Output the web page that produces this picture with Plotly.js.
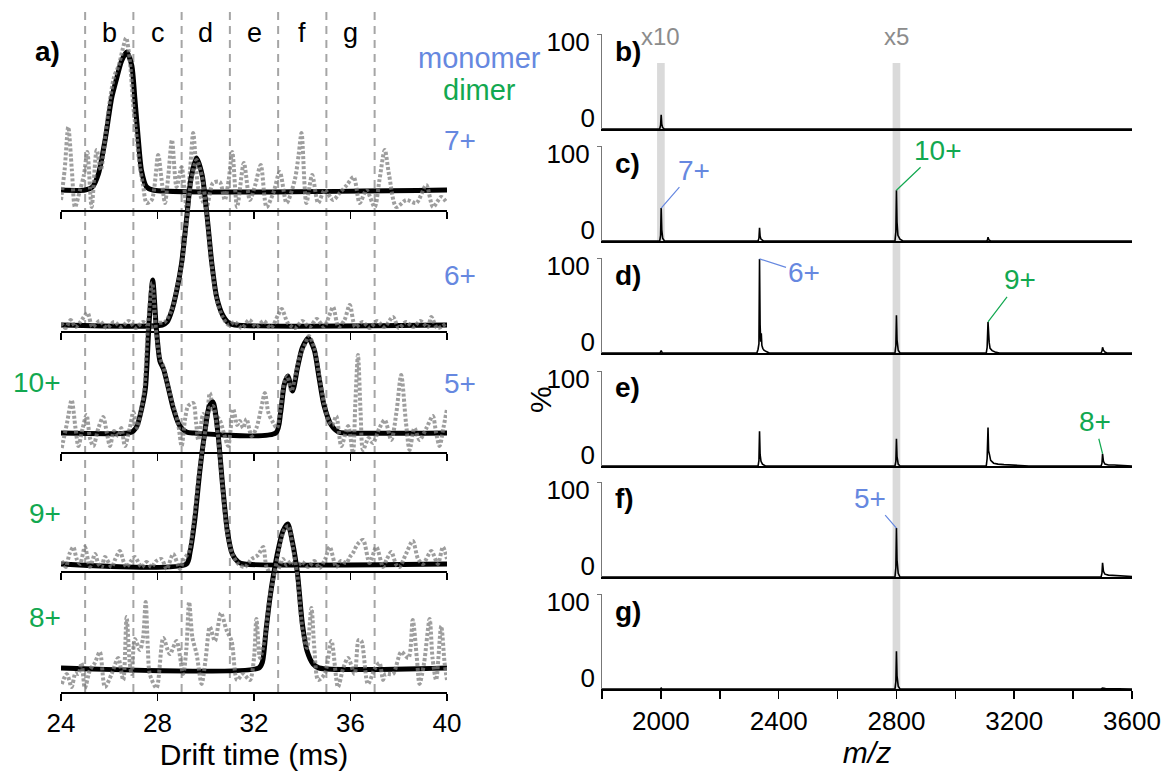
<!DOCTYPE html>
<html>
<head>
<meta charset="utf-8">
<script src="https://cdn.plot.ly/plotly-3.0.1.min.js"></script>
<style>html,body{margin:0;padding:0;background:#fff;}#chart{width:1167px;height:778px;}</style>
</head>
<body>
<div id="chart"></div>
<script>
// ---------------- DATA ----------------
// Left panel (a): arrival-time distributions, drift time (ms) vs intensity (arb.)
const driftTicks = [24, 28, 32, 36, 40];
const windowEdges = [25, 27, 29, 31, 33, 35, 37];
const windowLetters = ['b', 'c', 'd', 'e', 'f', 'g'];
const windowCenters = [26, 28, 30, 32, 34, 36];

const fit7 = [[24,0],[25.0,0],[25.3,3],[25.55,16],[25.82,49],[26.1,92],[26.3,111],[26.51,129],[26.72,138],[26.93,125],[27.06,92],[27.2,52],[27.34,19],[27.55,3],[27.8,0],[40,0]];
const raw7 = [[24.0,-10],[24.15,20],[24.3,63],[24.45,20],[24.58,-17],[24.79,0],[24.95,15],[25.09,38],[25.27,-17],[25.48,40],[25.65,20],[25.82,50],[26.0,85],[26.2,113],[26.4,125],[26.55,140],[26.7,152],[26.85,130],[27.0,83],[27.15,50],[27.27,23],[27.4,5],[27.55,-13],[27.76,-10],[28.03,35],[28.17,10],[28.31,-13],[28.45,15],[28.6,50],[28.79,3],[29.0,23],[29.2,-17],[29.35,20],[29.48,57],[29.68,3],[29.85,-10],[30.03,-17],[30.3,7],[30.58,8],[30.79,-10],[30.95,10],[31.1,38],[31.3,-17],[31.58,27],[31.83,-10],[32.05,5],[32.28,25],[32.52,-17],[32.8,-3],[33.07,18],[33.35,-13],[33.69,10],[33.85,35],[33.97,57],[34.17,-13],[34.41,15],[34.66,-13],[34.93,0],[35.28,-10],[35.55,-3],[35.85,5],[36.13,13],[36.38,-13],[36.66,0],[37.0,-17],[37.2,10],[37.42,40],[37.6,15],[37.9,-17],[38.31,-10],[38.73,-13],[39.14,5],[39.42,-17],[39.76,-7],[40.0,-13]];

const fit6 = [[24,0],[28.2,0],[28.4,3],[28.6,15],[28.8,35],[29.0,62],[29.2,105],[29.4,148],[29.62,167],[29.85,150],[30.05,110],[30.25,62],[30.45,28],[30.7,10],[30.95,2],[31.2,0],[40,0]];
const raw6 = [[24.0,2],[24.2,-3],[24.4,5],[24.6,-2],[24.8,3],[25.1,12],[25.3,-2],[25.6,4],[25.9,-3],[26.2,3],[26.5,-2],[26.8,4],[27.1,-3],[27.4,3],[27.7,-2],[28.0,2],[28.3,3],[28.6,16],[28.8,37],[29.0,60],[29.2,103],[29.4,145],[29.62,165],[29.85,148],[30.05,108],[30.25,60],[30.45,26],[30.7,8],[30.95,0],[31.2,3],[31.5,-3],[31.8,5],[32.1,-2],[32.4,4],[32.7,-3],[33.0,10],[33.15,16],[33.4,2],[33.7,-3],[34.0,4],[34.3,-2],[34.6,6],[34.9,-2],[35.1,8],[35.28,18],[35.5,-2],[35.75,5],[35.97,20],[36.2,-2],[36.5,3],[36.8,-3],[37.1,4],[37.4,-2],[37.76,8],[38.0,-3],[38.3,3],[38.6,-2],[38.9,4],[39.2,-2],[39.35,8],[39.6,-3],[40.0,2]];

const fit10 = [[24,0],[26.8,0],[27.0,2],[27.15,7],[27.35,25],[27.5,45],[27.65,110],[27.8,153],[27.95,105],[28.1,72],[28.25,64],[28.45,45],[28.65,25],[28.9,8],[29.2,1],[29.5,0],[32.9,0],[33.1,20],[33.25,48],[33.4,57],[33.6,42],[33.8,65],[34.0,85],[34.25,95],[34.5,83],[34.7,55],[34.9,28],[35.2,8],[35.5,1],[35.8,0],[40,0]];
const raw10 = [[24.03,-15],[24.25,10],[24.44,33],[24.6,5],[24.72,-13],[24.9,5],[25.06,18],[25.2,-5],[25.34,-13],[25.55,5],[25.75,16],[25.9,0],[26.03,-13],[26.2,2],[26.37,-3],[26.5,5],[26.65,-13],[26.85,5],[27.0,21],[27.15,5],[27.3,20],[27.45,42],[27.6,105],[27.78,150],[27.95,100],[28.1,75],[28.25,66],[28.45,45],[28.65,28],[28.85,10],[29.0,-13],[29.15,15],[29.27,27],[29.48,30],[29.6,10],[29.69,-7],[29.89,19],[30.0,5],[30.17,40],[30.35,20],[30.58,13],[30.75,0],[30.93,-13],[31.14,24],[31.3,8],[31.41,12],[31.55,5],[31.69,14],[31.9,-3],[32.1,5],[32.3,25],[32.45,40],[32.6,20],[32.8,10],[32.95,5],[33.1,25],[33.25,50],[33.38,57],[33.55,42],[33.7,55],[33.9,77],[34.1,88],[34.28,97],[34.5,85],[34.7,58],[34.9,30],[35.1,12],[35.25,8],[35.41,17],[35.62,-13],[35.9,7],[36.1,-20],[36.2,30],[36.31,78],[36.42,20],[36.52,-17],[36.75,-5],[36.93,-10],[37.2,5],[37.42,13],[37.69,-7],[37.9,20],[38.1,58],[38.3,10],[38.45,-17],[38.65,5],[38.86,-7],[39.15,5],[39.41,17],[39.55,0],[39.69,-13],[39.85,5],[40.0,24]];

const fit9 = [[24,0],[29.2,0],[29.35,12],[29.55,45],[29.75,92],[29.95,130],[30.15,158],[30.3,162],[30.5,132],[30.7,78],[30.9,32],[31.1,10],[31.35,2],[31.6,0],[40,0]];
const raw9 = [[24.03,3],[24.2,-3],[24.35,10],[24.51,17],[24.65,5],[24.79,0],[24.99,17],[25.2,-3],[25.41,10],[25.55,0],[25.68,-3],[25.82,7],[26.1,-3],[26.25,5],[26.44,13],[26.6,2],[26.72,-3],[26.9,3],[27.06,7],[27.34,-3],[27.55,2],[27.75,-3],[27.95,3],[28.17,5],[28.38,-5],[28.65,10],[28.93,-5],[29.1,5],[29.3,12],[29.5,42],[29.72,90],[29.95,128],[30.15,156],[30.3,158],[30.5,130],[30.7,76],[30.9,30],[31.1,10],[31.35,0],[31.62,-3],[31.9,5],[32.17,9],[32.38,17],[32.52,-3],[32.8,-13],[33.0,-6],[33.2,5],[33.35,-1],[33.55,3],[33.76,-3],[34.0,2],[34.24,-3],[34.5,3],[34.72,-4],[34.95,5],[35.14,17],[35.41,-3],[35.6,3],[35.83,1],[35.97,7],[36.1,11],[36.3,20],[36.52,24],[36.79,1],[37.07,17],[37.35,-3],[37.49,4],[37.69,12],[37.9,-1],[38.03,-3],[38.3,10],[38.58,23],[38.8,5],[39.0,0],[39.35,13],[39.62,0],[39.83,17],[40.0,5]];

const fit8 = [[24,0],[32.2,0],[32.35,6],[32.5,38],[32.65,68],[32.8,92],[33.0,118],[33.2,137],[33.4,144],[33.6,125],[33.8,95],[34.0,45],[34.2,17],[34.45,4],[34.7,0],[40,0]];
const raw8 = [[24.03,-16],[24.24,-6],[24.44,-19],[24.6,-5],[24.72,-6],[24.85,5],[24.99,-20],[25.2,-2],[25.4,5],[25.61,16],[25.82,-19],[26.1,-6],[26.37,10],[26.58,-12],[26.72,51],[26.85,5],[26.93,-6],[27.06,29],[27.27,18],[27.4,30],[27.51,66],[27.6,20],[27.68,-6],[27.96,-20],[28.24,30],[28.51,14],[28.79,27],[29.06,-6],[29.2,20],[29.31,66],[29.45,30],[29.62,14],[29.83,-16],[30.0,10],[30.17,41],[30.38,27],[30.63,55],[30.86,38],[31.07,27],[31.3,-12],[31.55,-6],[31.83,-12],[32.0,10],[32.1,49],[32.25,10],[32.45,30],[32.65,70],[32.85,95],[33.05,120],[33.25,138],[33.42,142],[33.6,122],[33.8,92],[34.03,35],[34.2,20],[34.38,60],[34.5,20],[34.66,-12],[34.93,-6],[35.21,27],[35.48,-19],[35.7,0],[35.9,10],[36.17,-6],[36.34,28],[36.45,27],[36.72,-16],[37.0,-1],[37.2,5],[37.35,-12],[37.45,-6],[37.76,-6],[38.1,16],[38.4,10],[38.58,48],[38.75,10],[38.86,-16],[39.05,5],[39.28,49],[39.4,10],[39.55,-12],[39.76,42],[39.9,5],[40.0,-12]];

const stripFits = [fit7, fit6, fit10, fit9, fit8];
const stripRaw = [raw7, raw6, raw10, raw9, raw8];
const stripLeftLabels = ['', '', '10+', '9+', '8+'];
const stripRightLabels = ['7+', '6+', '5+', '', ''];

// Right panels (b-g): mass spectra, m/z vs relative intensity (%)
const mzTicks = [1800, 2000, 2200, 2400, 2600, 2800, 3000, 3200, 3400, 3600];
const mzTickLabels = ['', '2000', '', '2400', '', '2800', '', '3200', '', '3600'];
const specB = [[1800,0],[1996,0],[1999,4],[2001,15],[2003,5],[2006,1.5],[2012,0],[3600,0]];
const specC = [[1800,0],[1996,0],[1999,6],[2001,35],[2003,12],[2006,3],[2012,0],[2330,0],[2333,3],[2335,14],[2337,5],[2340,2],[2348,0],[2795,0],[2798,10],[2800,54],[2802,20],[2805,6],[2812,2],[2822,0],[3106,0],[3109,1],[3111,4],[3114,1],[3120,0],[3600,0]];
const specD = [[1800,0],[1997,0],[2001,2.5],[2005,0],[2326,0],[2330,4],[2333,10],[2335,100],[2337,30],[2339,12],[2341,21],[2343,8],[2346,5],[2350,3],[2358,1.5],[2368,0],[2795,0],[2798,8],[2800,40],[2802,14],[2806,3],[2812,0],[3105,0],[3108,6],[3111,33],[3113,14],[3115,11],[3118,5],[3125,2.5],[3135,1],[3150,0],[3495,0],[3498,2],[3500,6],[3503,3],[3508,1],[3515,0],[3600,0]];
const specE = [[1800,0],[2330,0],[2333,6],[2335,37],[2337,12],[2340,5],[2345,2],[2355,0],[2795,0],[2798,5],[2800,29],[2802,10],[2806,2],[2812,0],[3105,0],[3108,8],[3111,41],[3113,16],[3116,12],[3120,6],[3130,3],[3145,2],[3165,1.5],[3190,1],[3220,0.5],[3250,0],[3495,0],[3498,3],[3500,13],[3503,5],[3508,2],[3520,1],[3540,1],[3560,0.5],[3600,0]];
const specF = [[1800,0],[2795,0],[2798,10],[2800,52],[2802,18],[2806,4],[2812,0],[3495,0],[3498,4],[3500,15],[3503,6],[3508,3],[3520,2],[3540,1.5],[3570,1],[3600,0.5]];
const specG = [[1800,0],[1998,0],[2001,1],[2004,0],[2795,0],[2798,8],[2800,40],[2802,14],[2806,3],[2812,0],[3495,0],[3500,1],[3510,0.5],[3550,0.5],[3600,0]];
const spectra = [specB, specC, specD, specE, specF, specG];
const panelLetters = ['b)', 'c)', 'd)', 'e)', 'f)', 'g)'];
const bandCenters = [2000, 2800];
const bandLabels = ['x10', 'x5'];
const peakLabels = [
  {panel: 1, mz: 2001, text: '7+', kind: 'monomer', ax: 33, ay: -38},
  {panel: 1, mz: 2800, text: '10+', kind: 'dimer', ax: 42, ay: -40},
  {panel: 2, mz: 2335, text: '6+', kind: 'monomer', ax: 44, ay: 14},
  {panel: 2, mz: 3111, text: '9+', kind: 'dimer', ax: 32, ay: -42},
  {panel: 3, mz: 3500, text: '8+', kind: 'dimer', ax: -8, ay: -32},
  {panel: 4, mz: 2800, text: '5+', kind: 'monomer', ax: -26, ay: -30}
];

// ---------------- STYLE / LAYOUT ----------------
const W = 1167, H = 778;
const fx = p => p / W;
const fy = p => 1 - p / H;
const BLUE = 'rgb(102,136,224)';
const GREEN = 'rgb(18,168,80)';
const KIND_COLOR = {monomer: BLUE, dimer: GREEN};
const FONT = 'Liberation Sans, Arial, Helvetica, sans-serif';

const leftX = [61, 447];
const leftAxisPx = [210, 331, 452, 571, 692];
const leftBasePx = [190, 325, 433, 564, 668];
const rightX = [602, 1132];
const rightBasePx = [129, 241, 353, 466, 577, 689];
const rightHeight = 95;
const bandBottomPx = [241, 689];

const traces = [];
const layout = {
  width: W, height: H,
  margin: {l: 0, r: 0, t: 0, b: 0},
  paper_bgcolor: '#fff', plot_bgcolor: 'rgba(0,0,0,0)',
  showlegend: false,
  font: {family: FONT, color: '#000', size: 26},
  shapes: [], annotations: []
};
const note = (o) => layout.annotations.push(Object.assign({xanchor: 'center', yanchor: 'middle', showarrow: false}, o));

// Left strips
for (let i = 0; i < 5; i++) {
  const n = i + 1;
  const sfx = n === 1 ? '' : String(n);
  const xa = 'x' + sfx, ya = 'y' + sfx;
  traces.push({
    type: 'scatter', mode: 'lines', xaxis: xa, yaxis: ya,
    x: stripFits[i].map(p => p[0]), y: stripFits[i].map(p => p[1]),
    line: {color: '#000', width: 5, shape: 'spline', smoothing: 0.7}, hoverinfo: 'skip'
  });
  traces.push({
    type: 'scatter', mode: 'lines', xaxis: xa, yaxis: ya,
    x: stripRaw[i].map(p => p[0]), y: stripRaw[i].map(p => p[1]),
    line: {color: 'rgba(125,125,125,0.75)', width: 4, dash: '3px,2px', shape: 'spline', smoothing: 0.8}, hoverinfo: 'skip'
  });
  layout['xaxis' + sfx] = {
    domain: [fx(leftX[0]), fx(leftX[1])], range: [24, 40], anchor: ya,
    showline: true, linecolor: '#000', linewidth: 1.5, ticks: 'outside', ticklen: 7, tickwidth: 1.5, tickcolor: '#000',
    tickvals: driftTicks, showticklabels: n === 5, tickfont: {size: 26}, showgrid: false, zeroline: false, fixedrange: true
  };
  layout['yaxis' + sfx] = {
    domain: [fy(leftAxisPx[i]), 1], range: [-(leftAxisPx[i] - leftBasePx[i]), leftBasePx[i]],
    anchor: xa, visible: false, showgrid: false, zeroline: false, fixedrange: true
  };
  if (n === 5) layout['xaxis' + sfx].title = {text: 'Drift time (ms)', font: {size: 30}, standoff: 6};
  if (stripLeftLabels[i]) note({xref: 'paper', yref: 'paper', x: fx(63), y: fy(leftBasePx[i] - 51), xanchor: 'right', text: stripLeftLabels[i], font: {size: 28, color: GREEN}});
  if (stripRightLabels[i]) note({xref: 'paper', yref: 'paper', x: fx(442), y: fy(leftBasePx[i] - 50), xanchor: 'left', text: stripRightLabels[i], font: {size: 28, color: BLUE}});
}

// dashed window lines & letters
windowEdges.forEach(v => layout.shapes.push({type: 'line', xref: 'x', yref: 'paper', x0: v, x1: v, y0: fy(692), y1: fy(12), layer: 'below', line: {color: '#a5a5a5', width: 2, dash: '8px,6px'}}));
windowLetters.forEach((t, k) => note({xref: 'x', yref: 'paper', x: windowCenters[k], y: fy(33), text: t, font: {size: 27}}));
note({xref: 'paper', yref: 'paper', x: fx(47), y: fy(51), text: '<b>a)</b>', font: {size: 28}});
note({xref: 'paper', yref: 'paper', x: fx(479), y: fy(58), text: 'monomer', font: {size: 29, color: BLUE}});
note({xref: 'paper', yref: 'paper', x: fx(479), y: fy(90), text: 'dimer', font: {size: 29, color: GREEN}});

// Right strips
for (let j = 0; j < 6; j++) {
  const n = j + 6;
  const xa = 'x' + n, ya = 'y' + n;
  traces.push({
    type: 'scatter', mode: 'lines', xaxis: xa, yaxis: ya,
    x: spectra[j].map(p => p[0]), y: spectra[j].map(p => p[1]),
    line: {color: '#000', width: 1.6}, hoverinfo: 'skip'
  });
  // empty companion trace so the overlaid "0" tick axis is drawn
  traces.push({type: 'scatter', mode: 'lines', xaxis: xa, yaxis: 'y' + (n + 6), x: [], y: [], hoverinfo: 'skip'});
  const last = j === 5;
  layout['xaxis' + n] = {
    domain: [fx(rightX[0]), fx(rightX[1])], range: [1800, 3600], anchor: ya,
    showline: true, linecolor: '#000', linewidth: 2,
    ticks: last ? 'outside' : '', ticklen: 8, tickwidth: 1.5, tickcolor: '#000',
    tickvals: mzTicks, ticktext: mzTickLabels, showticklabels: last, tickfont: {size: 26},
    showgrid: false, zeroline: false, fixedrange: true
  };
  if (last) layout['xaxis' + n].title = {text: '<i>m/z</i>', font: {size: 30}, standoff: 4};
  const yCommon = {range: [0, 101], showgrid: false, zeroline: false, fixedrange: true,
    ticks: 'outside', ticklen: 4, tickcolor: '#777', tickfont: {size: 26}, ticklabelstandoff: 2};
  layout['yaxis' + n] = Object.assign({}, yCommon, {
    domain: [fy(rightBasePx[j]), fy(rightBasePx[j] - rightHeight)], anchor: xa,
    showline: true, linecolor: '#777', linewidth: 1, tickvals: [100], ticklabelshift: 7
  });
  layout['yaxis' + (n + 6)] = Object.assign({}, yCommon, {
    overlaying: ya, anchor: xa, side: 'left', showline: false, tickvals: [0], ticks: '', ticklabelshift: -11, ticklabelstandoff: 6
  });
  note({xref: 'paper', yref: 'paper', x: fx(613), y: fy(51 + 112 * j), xanchor: 'left', text: '<b>' + panelLetters[j] + '</b>', font: {size: 28}});
}

// grey bands + scale factors
bandCenters.forEach((c, k) => {
  layout.shapes.push({type: 'rect', xref: 'x6', yref: 'paper', x0: c - 13, x1: c + 13, y0: fy(bandBottomPx[k]), y1: fy(63), fillcolor: '#dadada', line: {width: 0}, layer: 'below'});
  note({xref: 'x6', yref: 'paper', x: c, y: fy(37), text: bandLabels[k], font: {size: 24, color: '#8c8c8c'}});
});

// charge-state labels on spectra
peakLabels.forEach(p => {
  const spec = spectra[p.panel];
  const pt = spec.find(q => q[0] === p.mz);
  const col = KIND_COLOR[p.kind];
  layout.annotations.push({
    xref: 'x' + (p.panel + 6), yref: 'y' + (p.panel + 6), x: p.mz, y: pt[1],
    text: p.text, showarrow: true, arrowhead: 0, arrowwidth: 1.2, arrowcolor: col,
    ax: p.ax, ay: p.ay, standoff: 0, font: {size: 28, color: col}
  });
});

note({xref: 'paper', yref: 'paper', x: fx(540), y: fy(400), text: '%', textangle: -90, font: {size: 30}});

Plotly.newPlot('chart', traces, layout, {displayModeBar: false, staticPlot: true});
</script>
</body>
</html>
